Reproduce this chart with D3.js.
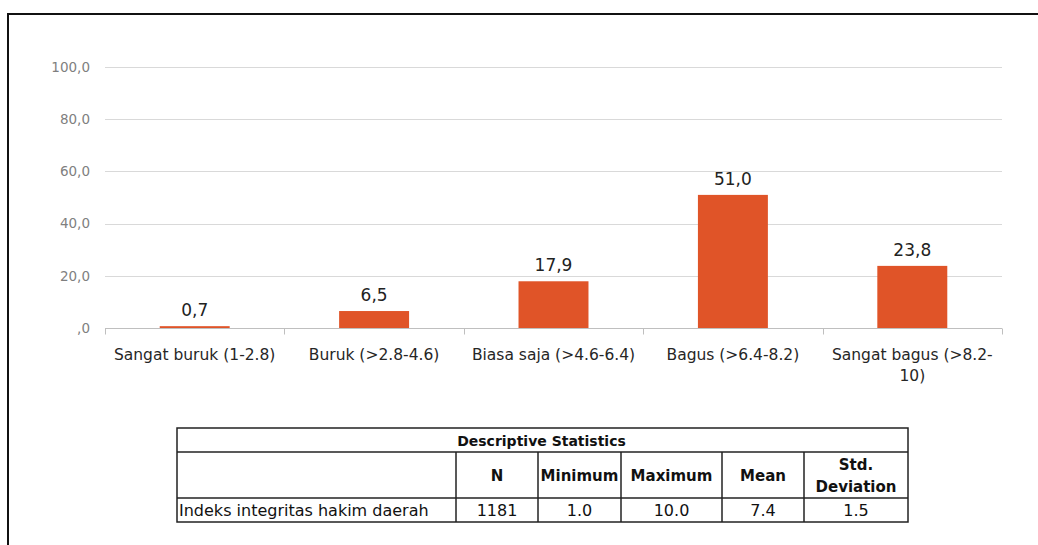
<!DOCTYPE html>
<html>
<head>
<meta charset="utf-8">
<script src="https://cdn.jsdelivr.net/npm/d3@7"></script>
<style>
  body { margin: 0; background: #fff; }
  svg { display: block; }
</style>
</head>
<body>
<div id="chart"></div>
<script>
// chart values
const categories = ["Sangat buruk (1-2.8)", "Buruk (>2.8-4.6)", "Biasa saja (>4.6-6.4)", "Bagus (>6.4-8.2)", "Sangat bagus (>8.2-10)"];
const values = [0.7, 6.5, 17.9, 51.0, 23.8];
const yTicks = [0, 20, 40, 60, 80, 100];

// table values
const tableTitle = "Descriptive Statistics";
const statHeaders = ["N", "Minimum", "Maximum", "Mean", "Std. Deviation"];
const statRowLabel = "Indeks integritas hakim daerah";
const statValues = ["1181", "1.0", "10.0", "7.4", "1.5"];

const width = 1038, height = 545;
const font = "'Century Gothic', 'DejaVu Sans', sans-serif";
const margin = { top: 67, left: 105, right: 36, bottom: 217 };

const svg = d3.select("#chart").append("svg")
  .attr("width", width)
  .attr("height", height);

// outer frame (only top and left edges visible)
svg.append("line").attr("x1", 7).attr("x2", width).attr("y1", 14).attr("y2", 14)
  .attr("stroke", "#111").attr("stroke-width", 2);
svg.append("line").attr("x1", 8).attr("x2", 8).attr("y1", 13).attr("y2", height)
  .attr("stroke", "#111").attr("stroke-width", 2);

const x = d3.scaleBand()
  .domain(categories)
  .range([margin.left, width - margin.right])
  .paddingInner(0.61)
  .paddingOuter(0.305);

const y = d3.scaleLinear()
  .domain([0, 100])
  .range([height - margin.bottom, margin.top]);

const fmt = v => v === 0 ? ",0" : v.toFixed(1).replace(".", ",");

// gridlines
svg.append("g")
  .selectAll("line")
  .data(yTicks.filter(d => d > 0))
  .enter().append("line")
  .attr("x1", margin.left)
  .attr("x2", width - margin.right)
  .attr("y1", d => Math.round(y(d)) + 0.5)
  .attr("y2", d => Math.round(y(d)) + 0.5)
  .attr("stroke", "#d9d9d9")
  .attr("stroke-width", 1);

// y tick labels
svg.append("g")
  .selectAll("text")
  .data(yTicks)
  .enter().append("text")
  .attr("x", 90)
  .attr("y", d => y(d))
  .attr("dy", "0.35em")
  .attr("text-anchor", "end")
  .style("font", `13.5px ${font}`)
  .attr("fill", "#7f7f7f")
  .text(fmt);

// bars
svg.append("g")
  .selectAll("rect")
  .data(values)
  .enter().append("rect")
  .attr("x", (d, i) => x(categories[i]))
  .attr("width", x.bandwidth())
  .attr("y", d => y(d))
  .attr("height", d => y(0) - y(d))
  .attr("fill", "#e05428");

// value labels
svg.append("g")
  .selectAll("text")
  .data(values)
  .enter().append("text")
  .attr("x", (d, i) => x(categories[i]) + x.bandwidth() / 2)
  .attr("y", d => y(d) - 10)
  .attr("text-anchor", "middle")
  .style("font", `17px ${font}`)
  .attr("fill", "#222")
  .text(fmt);

// x axis line and ticks at band edges
const axisY = Math.round(y(0)) + 0.5;
svg.append("line")
  .attr("x1", margin.left).attr("x2", width - margin.right)
  .attr("y1", axisY).attr("y2", axisY)
  .attr("stroke", "#bfbfbf");

const step = x.step();
const edges = d3.range(categories.length + 1).map(i => margin.left + i * step);
svg.append("g")
  .selectAll("line")
  .data(edges)
  .enter().append("line")
  .attr("x1", d => Math.round(d) + 0.5)
  .attr("x2", d => Math.round(d) + 0.5)
  .attr("y1", axisY)
  .attr("y2", axisY + 6)
  .attr("stroke", "#bfbfbf");

// category labels (last one wraps)
const catLabels = svg.append("g")
  .selectAll("text")
  .data(categories)
  .enter().append("text")
  .attr("x", d => x(d) + x.bandwidth() / 2)
  .attr("y", axisY + 31)
  .attr("text-anchor", "middle")
  .style("font", `15.5px ${font}`)
  .attr("fill", "#262626");

catLabels.each(function(d) {
  const t = d3.select(this);
  if (d === "Sangat bagus (>8.2-10)") {
    t.append("tspan").attr("x", x(d) + x.bandwidth() / 2).text("Sangat bagus (>8.2-");
    t.append("tspan").attr("x", x(d) + x.bandwidth() / 2).attr("dy", 21).text("10)");
  } else {
    t.text(d);
  }
});

// descriptive statistics table
const colX = [177, 456, 538, 621, 722, 804, 908];
const rowY = [428, 452, 498, 522];
const tbl = svg.append("g").attr("font-family", font);

tbl.append("rect")
  .attr("x", colX[0]).attr("y", rowY[0])
  .attr("width", colX[6] - colX[0]).attr("height", rowY[3] - rowY[0])
  .attr("fill", "none").attr("stroke", "#222").attr("stroke-width", 1.5);

[rowY[1], rowY[2]].forEach(yy => {
  tbl.append("line")
    .attr("x1", colX[0]).attr("x2", colX[6])
    .attr("y1", yy).attr("y2", yy)
    .attr("stroke", "#222").attr("stroke-width", 1.5);
});

colX.slice(1, 6).forEach(xx => {
  tbl.append("line")
    .attr("x1", xx).attr("x2", xx)
    .attr("y1", rowY[1]).attr("y2", rowY[3])
    .attr("stroke", "#222").attr("stroke-width", 1.5);
});

tbl.append("text")
  .attr("x", (colX[0] + colX[6]) / 2 - 1)
  .attr("y", rowY[0] + 18)
  .attr("text-anchor", "middle")
  .style("font-weight", 700)
  .style("font-size", "14px")
  .attr("fill", "#111")
  .text(tableTitle);

statHeaders.forEach((h, i) => {
  const cx = (colX[i + 1] + colX[i + 2]) / 2;
  const t = tbl.append("text")
    .attr("x", cx)
    .attr("text-anchor", "middle")
    .style("font-weight", 700)
    .style("font-size", "15px")
    .attr("fill", "#111");
  if (h === "Std. Deviation") {
    t.append("tspan").attr("x", cx).attr("y", rowY[1] + 18).text("Std.");
    t.append("tspan").attr("x", cx).attr("y", rowY[1] + 40).text("Deviation");
  } else {
    t.attr("y", rowY[1] + 29).text(h);
  }
});

tbl.append("text")
  .attr("x", colX[0] + 2)
  .attr("y", rowY[2] + 18)
  .style("font-size", "16px")
  .attr("fill", "#111")
  .text(statRowLabel);

statValues.forEach((v, i) => {
  tbl.append("text")
    .attr("x", (colX[i + 1] + colX[i + 2]) / 2)
    .attr("y", rowY[2] + 18)
    .attr("text-anchor", "middle")
    .style("font-size", "16px")
    .attr("fill", "#111")
    .text(v);
});
</script>
</body>
</html>
